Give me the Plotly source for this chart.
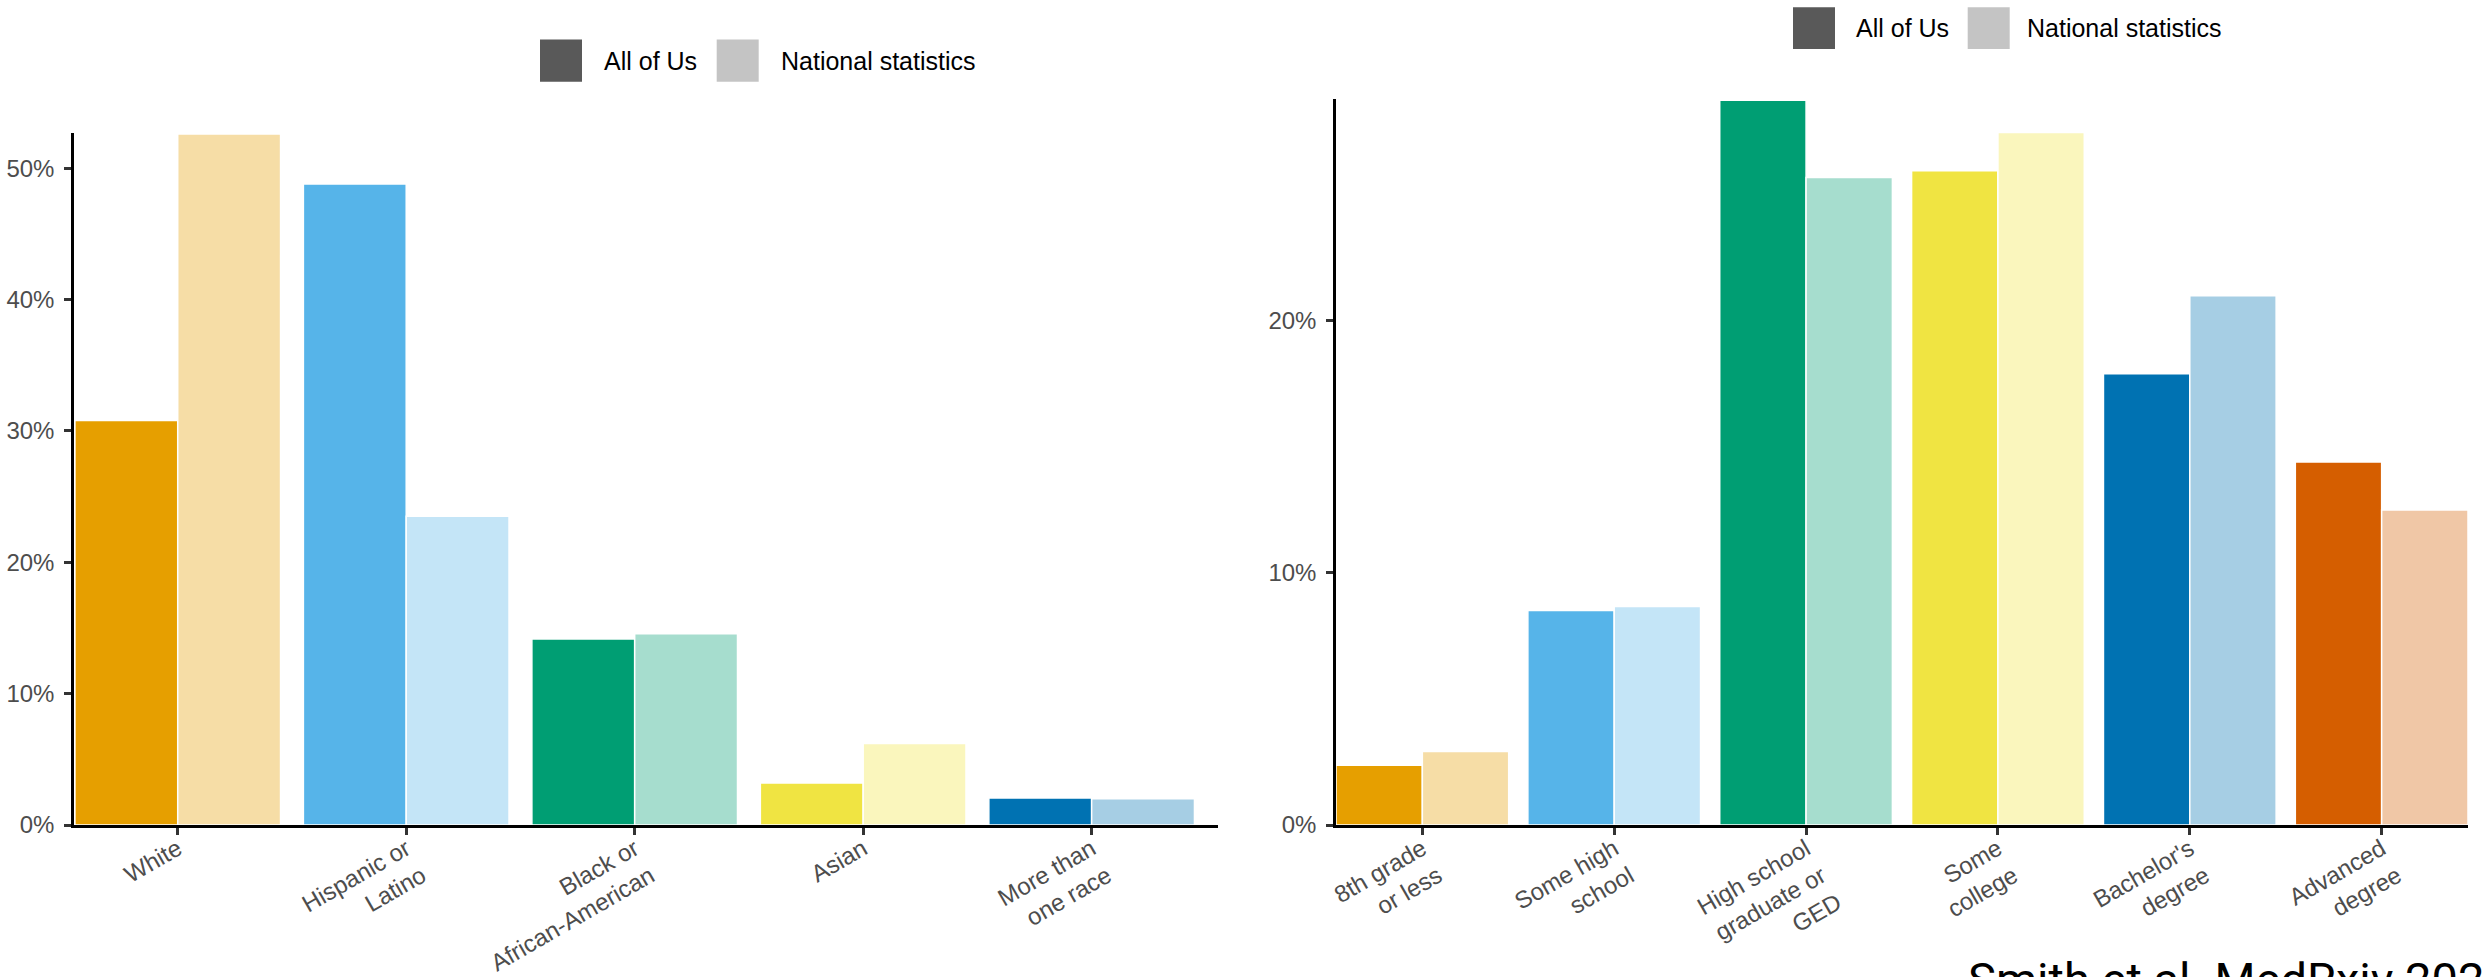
import plotly.graph_objects as go

W, H = 2483, 977

# Race / ethnicity panel (percent of participants)
race_categories = ["White", "Hispanic or<br>Latino", "Black or<br>African-American", "Asian", "More than<br>one race"]
race_all_of_us = [30.8, 48.8, 14.15, 3.2, 2.05]
race_national = [52.6, 23.5, 14.55, 6.2, 2.0]
race_ticks = [0, 10, 20, 30, 40, 50]

# Educational attainment panel (percent of participants)
edu_categories = ["8th grade<br>or less", "Some high<br>school", "High school<br>graduate or<br>GED",
                  "Some<br>college", "Bachelor's<br>degree", "Advanced<br>degree"]
edu_all_of_us = [2.37, 8.51, 28.75, 25.95, 17.9, 14.4]
edu_national = [2.92, 8.67, 25.69, 27.47, 21.0, 12.5]
edu_ticks = [0, 10, 20]

sources = ["All of Us", "National statistics"]

# Okabe-Ito palette; national statistics use a washed-out tint of the same hue
palette = ["#E69F00", "#56B4E9", "#009E73", "#F0E442", "#0072B2", "#D55E00"]
legend_colors = ["#595959", "#C4C4C4"]
FONT = "Liberation Sans, Arial, Helvetica, sans-serif"


def tint(hex_color, alpha=0.35):
    h = hex_color.lstrip("#")
    rgb = [int(h[i:i + 2], 16) for i in (0, 2, 4)]
    mixed = [round(255 - (255 - c) * alpha) for c in rgb]
    return "#" + "".join(f"{c:02X}" for c in mixed)


def pct_labels(vals):
    return [f"{v}%" for v in vals]


def px_x(p):
    return p / W


def px_y(p):
    return 1 - p / H


fig = go.Figure()

panels = [
    (race_categories, race_all_of_us, race_national, "x", "y"),
    (edu_categories, edu_all_of_us, edu_national, "x2", "y2"),
]
for cats, aou, nat, xa, ya in panels:
    cols = palette[:len(cats)]
    fig.add_trace(go.Bar(
        x=cats, y=aou, name=sources[0], offsetgroup="aou",
        marker=dict(color=cols, line=dict(color="white", width=1.5)),
        xaxis=xa, yaxis=ya, showlegend=False,
    ))
    fig.add_trace(go.Bar(
        x=cats, y=nat, name=sources[1], offsetgroup="nat",
        marker=dict(color=[tint(c) for c in cols], line=dict(color="white", width=1.5)),
        xaxis=xa, yaxis=ya, showlegend=False,
    ))

axis_common = dict(
    showgrid=False, zeroline=False, showline=True, linecolor="black", linewidth=2.5,
    ticks="outside", ticklen=7, tickwidth=2.5, tickcolor="#333333",
    tickfont=dict(family=FONT, size=24, color="#4D4D4D"), automargin=False,
)
x_common = dict(tickangle=-30, ticklabelstandoff=-9, **axis_common)
y_common = dict(ticklabelstandoff=5, **axis_common)

fig.update_layout(
    width=W, height=H,
    margin=dict(l=0, r=0, t=0, b=0),
    paper_bgcolor="white", plot_bgcolor="white",
    barmode="group", bargap=0.1, bargroupgap=0,
    font=dict(family=FONT),
    xaxis=dict(domain=[px_x(74), px_x(1218)], range=[-0.454, 4.553], anchor="y", **x_common),
    yaxis=dict(domain=[px_y(825), px_y(132.7)], range=[0, 52.7], anchor="x",
               tickmode="array", tickvals=race_ticks, ticktext=pct_labels(race_ticks), **y_common),
    xaxis2=dict(domain=[px_x(1336), px_x(2468)], range=[-0.45, 5.45], anchor="y2", **x_common),
    yaxis2=dict(domain=[px_y(825), px_y(99)], range=[0, 28.8], anchor="x2",
                tickmode="array", tickvals=edu_ticks, ticktext=pct_labels(edu_ticks), **y_common),
)

# Legend keys drawn above each panel
legend_layouts = [
    # (swatch lefts, label lefts, swatch top, swatch bottom)
    ([540, 716.7], [601.7, 779], 39.5, 81.7),
    ([1793, 1967.7], [1854, 2025], 7.3, 49),
]
for sw_lefts, lab_lefts, top, bottom in legend_layouts:
    for name, col, sx, lx in zip(sources, legend_colors, sw_lefts, lab_lefts):
        fig.add_shape(type="rect", xref="paper", yref="paper",
                      x0=px_x(sx), x1=px_x(sx + 42), y0=px_y(bottom), y1=px_y(top),
                      fillcolor=col, line=dict(width=0))
        fig.add_annotation(text=name, xref="paper", yref="paper",
                           x=px_x(lx), y=px_y((top + bottom) / 2),
                           xanchor="left", yanchor="middle", showarrow=False,
                           font=dict(family=FONT, size=25, color="black"))

# Source credit in the lower right corner
fig.add_annotation(text="Smith et al. MedRxiv 2023", xref="paper", yref="paper",
                   x=px_x(1966), y=px_y(950), xanchor="left", yanchor="top",
                   showarrow=False, font=dict(family="Roboto, sans-serif", size=47, color="black"))

fig.write_html("out.html")
